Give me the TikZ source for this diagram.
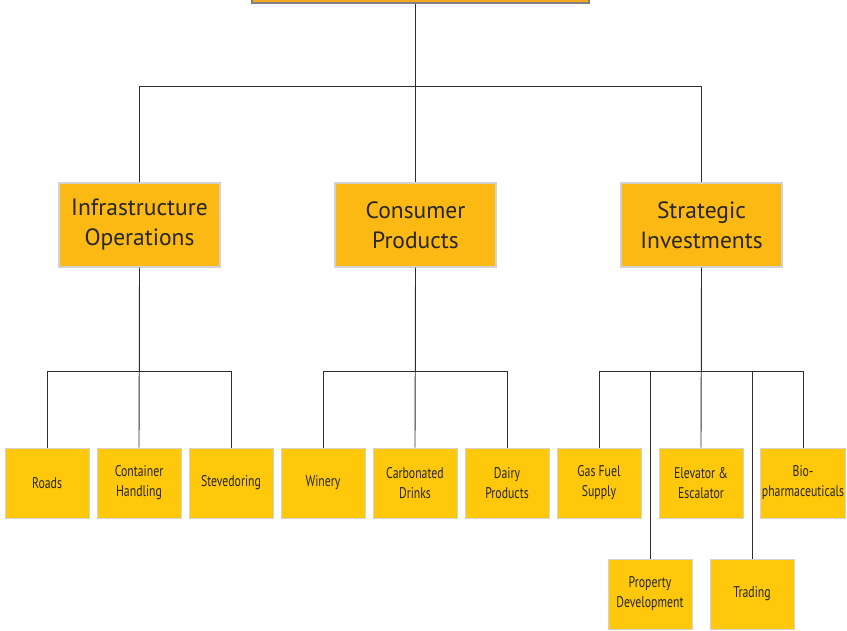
\documentclass[tikz,border=0pt]{standalone}
\usepackage{fontspec}
\setmainfont{PT Sans}
\newfontfamily\unitfont{PT Sans}[FakeStretch=0.76]
\usetikzlibrary{positioning}
\definecolor{topfill}{HTML}{F7A823}
\definecolor{midfill}{HTML}{FDB913}
\definecolor{leaffill}{HTML}{FFC80B}
\definecolor{boxline}{HTML}{D2D2D2}
\definecolor{wire}{HTML}{2E2E2E}

\begin{document}
\begin{tikzpicture}[x=1pt, y=-1pt,
    division/.style={draw=boxline, line width=1.2pt, fill=midfill, minimum width=161pt, minimum height=84pt, align=center, text=black!85, font=\fontsize{23.5}{30}\selectfont},
    unit/.style={draw=boxline, line width=1pt, fill=leaffill, minimum width=84pt, minimum height=70pt, inner sep=1pt, align=center, text=black!85, font=\unitfont\fontsize{15.5}{20}\selectfont},
    link/.style={draw=wire, line width=0.9pt}]
    \useasboundingbox (0,0) rectangle (847,630);

    % Top box - cut off by the page edge
    \node[draw=gray, line width=1.2pt, fill=topfill, minimum width=337pt, minimum height=40pt] (group) at (420.5,-17) {};

    % Divisions
    \node[division] (infra) at (139.5,225) {Infrastructure\\Operations};
    \node[division] (consumer) at (415.5,225) {Consumer\\Products};
    \node[division] (strategic) at (701.5,225) {Strategic\\Investments};

    % Business units - first row
    \node[unit] (roads) at (47,483) {Roads};
    \node[unit] (container) at (139,483) {Container\\Handling};
    \node[unit] (steve) at (231,483) {Stevedoring};
    \node[unit] (winery) at (323,483) {Winery};
    \node[unit] (carbonated) at (415,483) {Carbonated\\Drinks};
    \node[unit] (dairy) at (507,483) {Dairy\\Products};
    \node[unit] (gas) at (599,483) {Gas Fuel\\Supply};
    \node[unit] (elevator) at (701,483) {Elevator \&\\Escalator};
    \node[unit] (bio) at (803,483) {Bio-\\pharmaceuticals};

    % Business units - second row
    \node[unit] (property) at (650,594) {Property\\Development};
    \node[unit] (trading) at (752,594) {Trading};

    % Connectors from the top
    \draw[link] (group.south -| consumer.north) -- (consumer.north);
    \draw[link] (infra.north) -- ++(0,-96) -| (strategic.north);

    % Infrastructure Operations
    \draw[link] (infra.south) -- (container.north);
    \draw[link] (infra.south) -- ++(0,104) -| (roads.north);
    \draw[link] (infra.south) -- ++(0,104) -| (steve.north);

    % Consumer Products
    \draw[link] (consumer.south) -- (carbonated.north);
    \draw[link] (consumer.south) -- ++(0,104) -| (winery.north);
    \draw[link] (consumer.south) -- ++(0,104) -| (dairy.north);

    % Strategic Investments
    \draw[link] (strategic.south) -- (elevator.north);
    \draw[link] (strategic.south) -- ++(0,104) -| (gas.north);
    \draw[link] (strategic.south) -- ++(0,104) -| (bio.north);
    \draw[link] (property.north) -- ++(0,-188);
    \draw[link] (trading.north) -- ++(0,-188);
\end{tikzpicture}
\end{document}
